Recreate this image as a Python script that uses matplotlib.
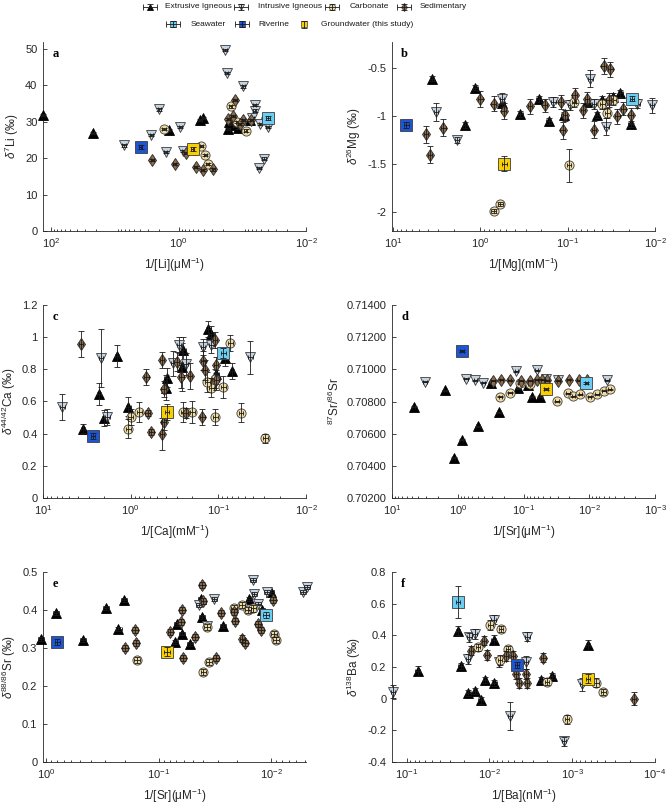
import numpy as np
import matplotlib
matplotlib.use("Agg")
import matplotlib.pyplot as plt
import matplotlib.ticker as mticker
from matplotlib import font_manager

plt.rcParams['font.family'] = ['Liberation Sans', 'DejaVu Sans']
plt.rcParams['mathtext.fontset'] = 'custom'
plt.rcParams['mathtext.rm'] = 'Liberation Sans'
plt.rcParams['mathtext.it'] = 'Liberation Sans:italic'
plt.rcParams['mathtext.default'] = 'regular'

installed = {f.name for f in font_manager.fontManager.ttflist}
LEG_FONT = 'Liberation Sans Narrow' if 'Liberation Sans Narrow' in installed else 'Liberation Sans'
LEG_SIZE = 6.8 if LEG_FONT == 'Liberation Sans Narrow' else 6.0

# relative uncertainty used for the concentration (x) error bars
CONC_RSD = 0.06

# ---- panel a : Li ----
li_ext_x = [135, 22.4, 1.43, 0.46, 0.41, 0.166, 0.148, 0.116, 0.16, 0.13, 0.075, 0.045]
li_ext_y = [31.8, 27.0, 27.8, 30.6, 31.1, 28.1, 29.3, 28.4, 30.0, 29.0, 30.5, 31.1]
li_int_x = [7.2, 2.67, 2.0, 1.6, 0.94, 0.84, 0.187, 0.177, 0.097, 0.064, 0.064, 0.055, 0.046, 0.040, 0.052, 0.07]
li_int_y = [23.5, 26.3, 33.4, 21.7, 28.6, 22.0, 49.7, 43.3, 39.7, 34.5, 33.1, 17.2, 19.9, 28.6, 29.5, 31.0]
li_carb_x = [1.71, 0.44, 0.38, 0.35, 0.153, 0.089, 0.12]
li_carb_y = [28.1, 23.3, 20.8, 18.5, 34.2, 27.6, 30.0]
li_sed_x = [2.6, 1.15, 0.77, 0.54, 0.42, 0.285, 0.13, 0.166, 0.14, 0.097, 0.072, 0.11]
li_sed_y = [19.4, 18.5, 21.4, 17.6, 16.7, 16.9, 35.9, 30.8, 31.5, 30.4, 30.6, 29.5]
li_sw = [0.0396, 31.1]
li_riv = [3.96, 23.1]
li_gw = [0.605, 22.6]

# ---- panel b : Mg ----
mg_ext_x = [3.57, 1.14, 1.49, 0.56, 0.215, 0.348, 0.165, 0.111, 0.046, 0.025, 0.019, 0.03, 0.04, 0.06]
mg_ext_y = [-0.605, -0.70, -1.094, -0.86, -0.82, -0.98, -1.05, -0.99, -0.99, -0.76, -1.08, -0.80, -0.83, -0.85]
mg_ext_e = [0.03, 0.03, 0.03, 0.04, 0.03, 0.03, 0.03, 0.03, 0.03, 0.04, 0.03, 0.04, 0.04, 0.04]
mg_int_x = [3.19, 1.85, 0.565, 0.145, 0.093, 0.055, 0.05, 0.036, 0.016, 0.0108]
mg_int_y = [-0.955, -1.25, -0.815, -0.85, -0.885, -0.605, -0.87, -1.11, -0.867, -0.885]
mg_int_e = [0.09, 0.03, 0.06, 0.05, 0.05, 0.09, 0.05, 0.09, 0.05, 0.08]
mg_carb_x = [0.70, 0.59, 0.097, 0.085, 0.04, 0.035, 0.03]
mg_carb_y = [-1.99, -1.916, -1.514, -0.85, -0.874, -0.965, -0.83]
mg_carb_e = [0.02, 0.02, 0.17, 0.05, 0.05, 0.05, 0.05]
mg_sed_x = [4.19, 3.74, 2.63, 1.0, 0.70, 0.54, 0.27, 0.183, 0.114, 0.12, 0.083, 0.067, 0.06,
            0.05, 0.0387, 0.0325, 0.034, 0.027, 0.023, 0.019, 0.107]
mg_sed_y = [-1.19, -1.40, -1.12, -0.82, -0.867, -0.944, -0.895, -0.885, -1.147, -0.85, -0.78, -0.937,
            -0.815, -1.14, -0.475, -0.51, -0.83, -1.0, -0.92, -0.99, -0.99]
mg_sed_e = [0.09, 0.09, 0.09, 0.08, 0.08, 0.08, 0.08, 0.07, 0.09, 0.07, 0.08, 0.08, 0.07,
            0.09, 0.08, 0.08, 0.07, 0.08, 0.07, 0.08, 0.06]
mg_sw = [0.0183, -0.815, 0.03]
mg_riv = [7.0, -1.094, 0.03]
mg_gw = [0.53, -1.497, 0.08]

# ---- panel c : Ca ----
ca_ext_x = [3.5, 2.3, 2.0, 1.43, 1.06, 0.388, 0.40, 0.25, 0.26, 0.13, 0.12, 0.105, 0.07, 0.084]
ca_ext_y = [0.432, 0.646, 0.50, 0.882, 0.567, 0.749, 0.687, 0.92, 0.816, 1.048, 1.02, 0.77, 0.79, 0.868]
ca_ext_e = [0.03, 0.07, 0.05, 0.07, 0.06, 0.06, 0.08, 0.08, 0.15, 0.05, 0.05, 0.06, 0.05, 0.05]
ca_int_x = [6.0, 2.18, 1.84, 0.33, 0.28, 0.236, 0.15, 0.12, 0.043]
ca_int_y = [0.567, 0.868, 0.504, 0.837, 0.95, 0.832, 0.94, 0.95, 0.874]
ca_int_e = [0.08, 0.18, 0.05, 0.08, 0.05, 0.07, 0.05, 0.05, 0.10]
ca_carb_x = [1.06, 1.0, 0.80, 0.25, 0.198, 0.108, 0.055, 0.029, 0.088, 0.12, 0.11, 0.073, 0.134]
ca_carb_y = [0.432, 0.504, 0.535, 0.535, 0.535, 0.504, 0.531, 0.37, 0.69, 0.687, 0.743, 0.961, 0.722]
ca_carb_e = [0.06, 0.05, 0.06, 0.06, 0.07, 0.05, 0.06, 0.03, 0.07, 0.06, 0.06, 0.05, 0.06]
ca_sed_x = [3.7, 0.66, 0.64, 0.58, 0.44, 0.44, 0.42, 0.42, 0.30, 0.265, 0.236, 0.21, 0.152,
            0.149, 0.142, 0.109, 0.107, 0.105]
ca_sed_y = [0.957, 0.754, 0.529, 0.411, 0.397, 0.857, 0.675, 0.473, 0.847, 0.754, 0.529, 0.758,
            0.504, 0.853, 0.795, 0.982, 0.826, 0.733]
ca_sed_e = [0.08, 0.05, 0.02, 0.02, 0.10, 0.05, 0.05, 0.05, 0.06, 0.07, 0.03, 0.08, 0.05,
            0.06, 0.06, 0.05, 0.05, 0.06]
ca_sw = [0.0875, 0.903, 0.03]
ca_riv = [2.7, 0.386, 0.02]
ca_gw = [0.387, 0.536, 0.05]

# ---- panel d : 87Sr/86Sr ----
sr_ext_x = [4.7, 1.55, 1.16, 0.87, 0.49, 0.236, 0.31, 0.12, 0.085, 0.075, 0.056]
sr_ext_y = [0.70767, 0.70871, 0.70451, 0.70563, 0.70646, 0.70734, 0.70916, 0.70881, 0.70902, 0.70829, 0.70829]
sr_int_x = [3.16, 0.745, 0.54, 0.41, 0.128, 0.063, 0.0054, 0.045, 0.03]
sr_int_y = [0.70922, 0.70943, 0.70933, 0.70916, 0.70989, 0.70995, 0.70933, 0.70940, 0.70935]
sr_carb_x = [0.225, 0.16, 0.114, 0.08, 0.031, 0.021, 0.0174, 0.0137, 0.0099, 0.0076, 0.006, 0.0049]
sr_carb_y = [0.70829, 0.70854, 0.70912, 0.70910, 0.70802, 0.70850, 0.70833, 0.70846, 0.70829, 0.70846,
             0.70866, 0.70875]
sr_sed_x = [0.29, 0.217, 0.162, 0.08, 0.063, 0.044, 0.0295, 0.0206, 0.0145, 0.0109, 0.11, 0.052]
sr_sed_y = [0.70930, 0.70935, 0.70933, 0.70930, 0.70936, 0.70932, 0.70930, 0.70934, 0.70931, 0.70933,
            0.70930, 0.70935]
sr_sw = [0.0111, 0.70916]
sr_riv = [0.86, 0.71114]
sr_gw = [0.0455, 0.70877]

# ---- panel e : d88/86Sr ----
sre_ext_x = [1.11, 0.825, 0.47, 0.294, 0.228, 0.203, 0.0695, 0.071, 0.062, 0.053, 0.042, 0.041,
             0.027, 0.0156, 0.0101, 0.012]
sre_ext_y = [0.323, 0.392, 0.321, 0.406, 0.351, 0.426, 0.364, 0.316, 0.338, 0.310, 0.430, 0.382,
             0.357, 0.430, 0.448, 0.400]
sre_int_x = [0.044, 0.032, 0.037, 0.0146, 0.0141, 0.011, 0.0132, 0.0052, 0.0048]
sre_int_y = [0.413, 0.430, 0.357, 0.478, 0.443, 0.448, 0.417, 0.448, 0.461]
sre_carb_x = [0.156, 0.040, 0.036, 0.037, 0.0213, 0.0183, 0.0162, 0.0144, 0.0095, 0.009]
sre_carb_y = [0.268, 0.238, 0.264, 0.356, 0.406, 0.413, 0.400, 0.404, 0.338, 0.321]
sre_sed_x = [0.2, 0.162, 0.16, 0.0787, 0.063, 0.062, 0.0606, 0.048, 0.041, 0.04, 0.031, 0.028,
             0.021, 0.018, 0.017, 0.0132, 0.0123, 0.0096, 0.0213]
sre_sed_y = [0.299, 0.347, 0.312, 0.343, 0.369, 0.400, 0.273, 0.330, 0.465, 0.423, 0.273, 0.392,
             0.371, 0.325, 0.314, 0.364, 0.347, 0.426, 0.395]
sre_sw = [0.0111, 0.386]
sre_riv = [0.797, 0.315]
sre_gw = [0.084, 0.290]

# ---- panel f : Ba ----
ba_ext_x = [0.0738, 0.024, 0.0223, 0.0179, 0.0149, 0.0128, 0.0113, 0.0087, 0.0089, 0.00236, 0.00174, 0.00065]
ba_ext_y = [0.176, 0.43, 0.207, 0.034, 0.049, -0.011, 0.118, 0.10, 0.372, 0.118, 0.144, 0.339]
ba_ext_e = [0.03, 0.03, 0.02, 0.02, 0.02, 0.02, 0.02, 0.02, 0.03, 0.02, 0.02, 0.03]
ba_int_x = [0.145, 0.0174, 0.0151, 0.0182, 0.0089, 0.0076, 0.00347, 0.0056, 0.0036, 0.00126, 0.00076]
ba_int_y = [0.045, 0.387, 0.408, 0.25, 0.50, 0.229, 0.392, -0.11, 0.229, -0.269, 0.091]
ba_int_e = [0.04, 0.03, 0.03, 0.03, 0.03, 0.03, 0.03, 0.09, 0.04, 0.03, 0.04]
ba_carb_x = [0.0097, 0.0072, 0.006, 0.0074, 0.0138, 0.002, 0.00115, 0.00051, 0.00042]
ba_carb_y = [0.465, 0.44, 0.313, 0.245, 0.324, 0.108, -0.131, 0.102, 0.042]
ba_carb_e = [0.03, 0.02, 0.02, 0.03, 0.02, 0.02, 0.03, 0.03, 0.02]
ba_sed_x = [0.0166, 0.0117, 0.0107, 0.0063, 0.0052, 0.0048, 0.0044, 0.0035, 0.0036, 0.00223, 0.000179]
ba_sed_y = [0.303, 0.366, 0.275, 0.271, 0.271, 0.155, 0.10, 0.10, 0.155, 0.26, 0.0]
ba_sed_e = [0.03, 0.03, 0.03, 0.03, 0.03, 0.03, 0.03, 0.03, 0.03, 0.03, 0.04]
ba_sw = [0.024, 0.61, 0.10]
ba_riv = [0.00466, 0.212, 0.02]
ba_gw = [0.00065, 0.127, 0.03]

group_names = ['Extrusive Igneous', 'Intrusive Igneous', 'Carbonate', 'Sedimentary',
               'Seawater', 'Riverine', 'Groundwater (this study)']

STYLE = {
    'ext': dict(marker='^', ms=7.2, mfc='black', mec='black'),
    'int': dict(marker='v', ms=7.2, mfc='#c6d4e1', mec='#3c3c3c'),
    'carb': dict(marker='o', ms=6.6, mfc='#f0dca3', mec='#3c3c3c'),
    'sed': dict(marker='d', ms=6.0, mfc='#8d6b46', mec='#2a2a2a'),
    'sw': dict(marker='s', ms=8.6, mfc='#6ccdf2', mec='#3c3c3c'),
    'riv': dict(marker='s', ms=8.6, mfc='#1c56d4', mec='#3c3c3c'),
    'gw': dict(marker='s', ms=8.6, mfc='#f8cf00', mec='#3c3c3c'),
}
ECOL = '#1a1a1a'
AXCOL = '#262626'


def draw(ax, key, x, y, yerr, z):
    x = np.asarray(x, float)
    y = np.asarray(y, float)
    st = STYLE[key]
    ax.plot(x, y, linestyle='none', marker=st['marker'], ms=st['ms'], mfc=st['mfc'],
            mec=st['mec'], mew=0.6, zorder=z, clip_on=False)
    ax.errorbar(x, y, yerr=yerr, fmt='none', ecolor=ECOL,
                elinewidth=0.6, capsize=2.2, capthick=0.6, zorder=z + 0.5, clip_on=False)
    ax.errorbar(x, y, xerr=x * CONC_RSD, fmt='none', ecolor=ECOL,
                elinewidth=0.6, capsize=1.2, capthick=0.6, zorder=z + 0.5, clip_on=False)


def style_axes(ax, xlim, xticks, ylim, yticks, yfmt, xlabel, ylabel, letter):
    ax.set_xscale('log')
    ax.set_xlim(xlim[1], xlim[0])
    ax.set_ylim(*ylim)
    ax.xaxis.set_major_locator(mticker.FixedLocator(xticks))
    ax.xaxis.set_minor_locator(mticker.LogLocator(base=10, subs=np.arange(2, 10), numticks=20))
    ax.xaxis.set_minor_formatter(mticker.NullFormatter())
    ax.set_yticks(yticks)
    ax.yaxis.set_major_formatter(mticker.FuncFormatter(lambda v, p: yfmt % v))
    for s in ['top', 'right']:
        ax.spines[s].set_visible(False)
    for s in ['left', 'bottom']:
        ax.spines[s].set_color(AXCOL)
        ax.spines[s].set_linewidth(0.6)
    ax.tick_params(which='both', direction='in', colors=AXCOL, width=0.6, labelsize=8, pad=4)
    ax.tick_params(which='major', length=3)
    ax.tick_params(which='minor', length=1.5)
    ax.set_xlabel(xlabel, fontsize=8.5, color=AXCOL, labelpad=4)
    ax.set_ylabel(ylabel, fontsize=8.5, color=AXCOL, labelpad=3)
    ax.text(0.035, 0.92, letter, transform=ax.transAxes, fontsize=9, fontweight='bold',
            family='Liberation Serif', color='black')


fig = plt.figure(figsize=(6.67, 8.07), dpi=100)

W, H = 667.0, 807.0
left_a, left_b = 43 / W, 392 / W
wid = 263 / W
rows = [(41.7, 231), (305, 498), (572, 762)]
pos = []
for top, bot in rows:
    for lft in (left_a, left_b):
        pos.append([lft, 1 - bot / H, wid, (bot - top) / H])

axes = [fig.add_axes(p) for p in pos]
ax_a, ax_b, ax_c, ax_d, ax_e, ax_f = axes

# a
draw(ax_a, 'ext', li_ext_x, li_ext_y, 0.3, 3)
draw(ax_a, 'int', li_int_x, li_int_y, 0.3, 4)
draw(ax_a, 'carb', li_carb_x, li_carb_y, 0.3, 5)
draw(ax_a, 'sed', li_sed_x, li_sed_y, 0.3, 6)
draw(ax_a, 'sw', [li_sw[0]], [li_sw[1]], 0.6, 7)
draw(ax_a, 'riv', [li_riv[0]], [li_riv[1]], 0.6, 8)
draw(ax_a, 'gw', [li_gw[0]], [li_gw[1]], 0.6, 9)
style_axes(ax_a, (0.01, 135), [1e-2, 1, 1e2], (0, 52), [0, 10, 20, 30, 40, 50], '%g',
           r'1/[Li]($\mu$M$^{-1}$)', r'$\it{\delta}^{7}$Li (‰)', 'a')

# b
draw(ax_b, 'ext', mg_ext_x, mg_ext_y, mg_ext_e, 3)
draw(ax_b, 'int', mg_int_x, mg_int_y, mg_int_e, 4)
draw(ax_b, 'carb', mg_carb_x, mg_carb_y, mg_carb_e, 5)
draw(ax_b, 'sed', mg_sed_x, mg_sed_y, mg_sed_e, 6)
draw(ax_b, 'sw', [mg_sw[0]], [mg_sw[1]], mg_sw[2], 7)
draw(ax_b, 'riv', [mg_riv[0]], [mg_riv[1]], mg_riv[2], 8)
draw(ax_b, 'gw', [mg_gw[0]], [mg_gw[1]], mg_gw[2], 9)
style_axes(ax_b, (0.01, 10.2), [1e-2, 1e-1, 1, 10], (-2.2, -0.22), [-2, -1.5, -1, -0.5], '%g',
           r'1/[Mg](mM$^{-1}$)', r'$\it{\delta}^{26}$Mg (‰)', 'b')

# c
draw(ax_c, 'ext', ca_ext_x, ca_ext_y, ca_ext_e, 3)
draw(ax_c, 'int', ca_int_x, ca_int_y, ca_int_e, 4)
draw(ax_c, 'carb', ca_carb_x, ca_carb_y, ca_carb_e, 5)
draw(ax_c, 'sed', ca_sed_x, ca_sed_y, ca_sed_e, 6)
draw(ax_c, 'sw', [ca_sw[0]], [ca_sw[1]], ca_sw[2], 7)
draw(ax_c, 'riv', [ca_riv[0]], [ca_riv[1]], ca_riv[2], 8)
draw(ax_c, 'gw', [ca_gw[0]], [ca_gw[1]], ca_gw[2], 9)
style_axes(ax_c, (0.01, 10), [1e-2, 1e-1, 1, 10], (0, 1.2), [0, 0.2, 0.4, 0.6, 0.8, 1, 1.2], '%g',
           r'1/[Ca](mM$^{-1}$)', r'$\it{\delta}^{44/42}$Ca (‰)', 'c')

# d
draw(ax_d, 'ext', sr_ext_x, sr_ext_y, 0.00003, 3)
draw(ax_d, 'int', sr_int_x, sr_int_y, 0.00003, 4)
draw(ax_d, 'carb', sr_carb_x, sr_carb_y, 0.00003, 5)
draw(ax_d, 'sed', sr_sed_x, sr_sed_y, 0.00003, 6)
draw(ax_d, 'sw', [sr_sw[0]], [sr_sw[1]], 0.00005, 7)
draw(ax_d, 'riv', [sr_riv[0]], [sr_riv[1]], 0.00005, 8)
draw(ax_d, 'gw', [sr_gw[0]], [sr_gw[1]], 0.00005, 9)
style_axes(ax_d, (0.001, 10), [1e-3, 1e-2, 1e-1, 1, 10], (0.702, 0.714),
           [0.702, 0.704, 0.706, 0.708, 0.710, 0.712, 0.714], '%.5f',
           r'1/[Sr]($\mu$M$^{-1}$)', r'$^{87}$Sr/$^{86}$Sr', 'd')

# e
draw(ax_e, 'ext', sre_ext_x, sre_ext_y, 0.005, 3)
draw(ax_e, 'int', sre_int_x, sre_int_y, 0.005, 4)
draw(ax_e, 'carb', sre_carb_x, sre_carb_y, 0.008, 5)
draw(ax_e, 'sed', sre_sed_x, sre_sed_y, 0.008, 6)
draw(ax_e, 'sw', [sre_sw[0]], [sre_sw[1]], 0.008, 7)
draw(ax_e, 'riv', [sre_riv[0]], [sre_riv[1]], 0.008, 8)
draw(ax_e, 'gw', [sre_gw[0]], [sre_gw[1]], 0.012, 9)
style_axes(ax_e, (0.0049, 1.07), [1e-2, 1e-1, 1], (0, 0.5), [0, 0.1, 0.2, 0.3, 0.4, 0.5], '%g',
           r'1/[Sr]($\mu$M$^{-1}$)', r'$\it{\delta}^{88/86}$Sr (‰)', 'e')

# f
draw(ax_f, 'ext', ba_ext_x, ba_ext_y, ba_ext_e, 3)
draw(ax_f, 'int', ba_int_x, ba_int_y, ba_int_e, 4)
draw(ax_f, 'carb', ba_carb_x, ba_carb_y, ba_carb_e, 5)
draw(ax_f, 'sed', ba_sed_x, ba_sed_y, ba_sed_e, 6)
draw(ax_f, 'sw', [ba_sw[0]], [ba_sw[1]], ba_sw[2], 7)
draw(ax_f, 'riv', [ba_riv[0]], [ba_riv[1]], ba_riv[2], 8)
draw(ax_f, 'gw', [ba_gw[0]], [ba_gw[1]], ba_gw[2], 9)
style_axes(ax_f, (1e-4, 0.15), [1e-4, 1e-3, 1e-2, 1e-1], (-0.4, 0.8),
           [-0.4, -0.2, 0, 0.2, 0.4, 0.6, 0.8], '%g',
           r'1/[Ba](nM$^{-1}$)', r'$\it{\delta}^{138}$Ba (‰)', 'f')

# legend strip at the top, drawn in pixel units
lax = fig.add_axes([0, 1 - 34 / H, 1, 34 / H])
lax.set_xlim(0, W)
lax.set_ylim(34, 0)
lax.axis('off')
keys = ['ext', 'int', 'carb', 'sed', 'sw', 'riv', 'gw']
leg_slots = [(150, 165, 6.5), (241, 258, 6.5), (332, 350, 6.5), (404, 420, 6.5),
             (173, 191, 24), (242, 258, 24), (304, 321, 24)]
for key, name, (mx, tx, yy) in zip(keys, group_names, leg_slots):
    st = STYLE[key]
    lax.plot([mx], [yy], linestyle='none', marker=st['marker'], ms=4.5, mfc=st['mfc'],
             mec=st['mec'], mew=0.5, zorder=3)
    if key == 'gw':
        lax.errorbar([mx], [yy], yerr=[[3.5]], fmt='none', ecolor=ECOL, elinewidth=0.6,
                     capsize=2.2, capthick=0.6, zorder=4)
    else:
        lax.errorbar([mx], [yy], xerr=[[7]], yerr=[[3]], fmt='none', ecolor=ECOL,
                     elinewidth=0.6, capsize=2.2, capthick=0.6, zorder=4)
    lax.text(tx, yy, name, fontsize=LEG_SIZE, family=LEG_FONT, va='center', ha='left',
             color='#1a1a1a')

fig.savefig('out.png', dpi=100)
